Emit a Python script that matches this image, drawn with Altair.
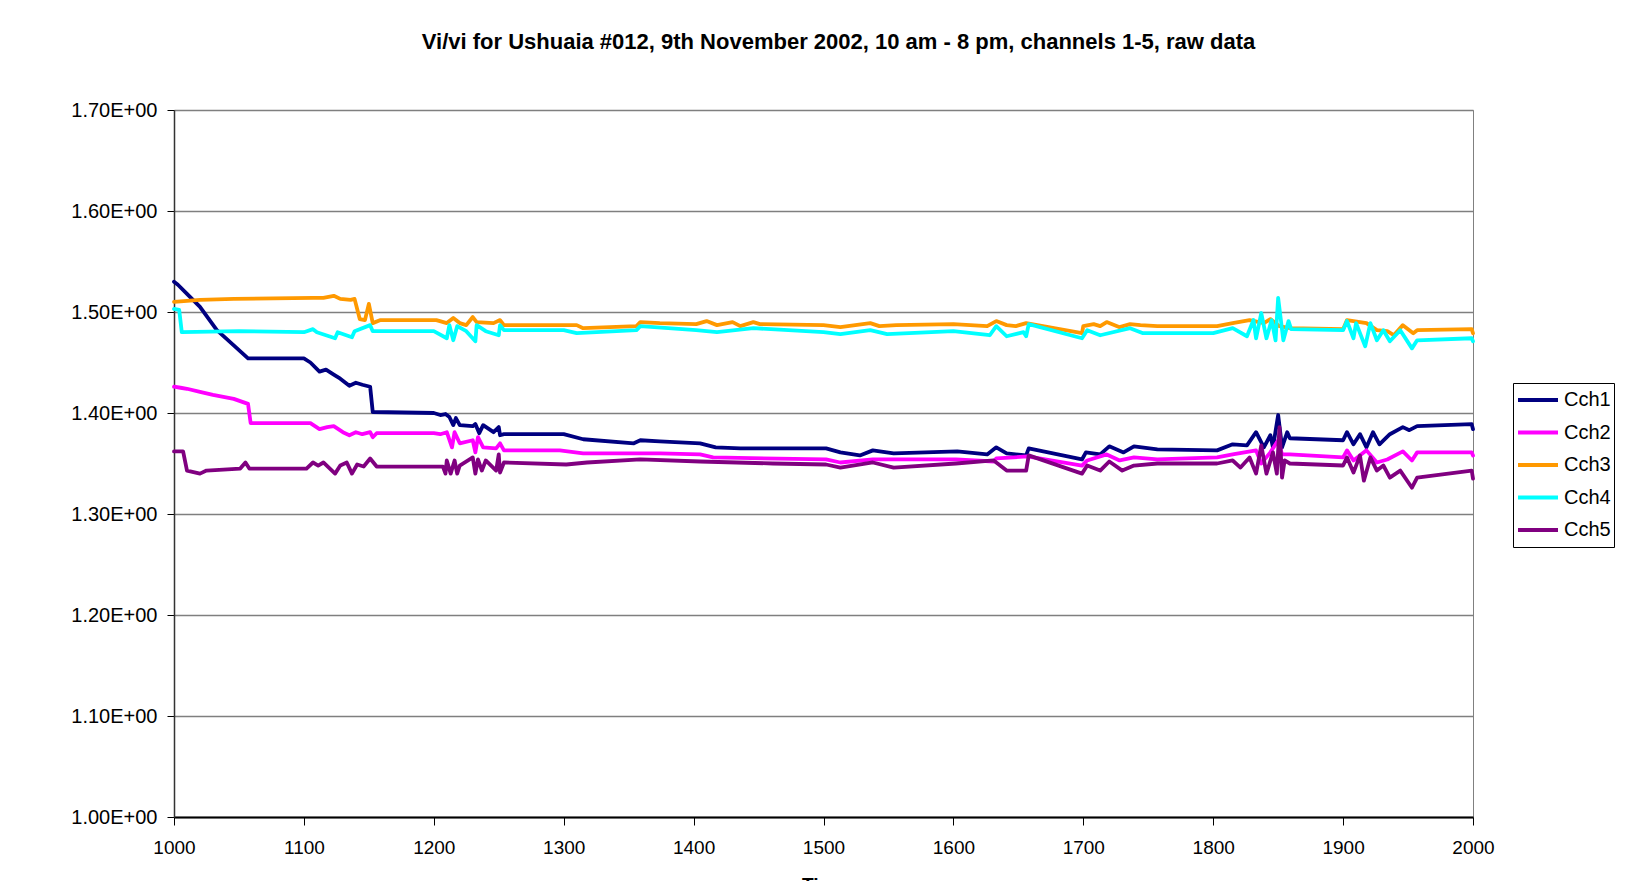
import altair as alt
import pandas as pd

channels = ["Cch1", "Cch2", "Cch3", "Cch4", "Cch5"]
colors = ["#000080", "#FF00FF", "#FF9900", "#00FFFF", "#800080"]

x_ticks = [1000, 1100, 1200, 1300, 1400, 1500, 1600, 1700, 1800, 1900, 2000]
y_ticks = [1.0, 1.1, 1.2, 1.3, 1.4, 1.5, 1.6, 1.7]

c1_t = [1000, 1003, 1010, 1020, 1033, 1046, 1057,
        1100, 1105, 1112, 1117, 1123, 1128, 1135, 1140, 1145, 1151, 1153,
        1200, 1205, 1209, 1212, 1215, 1217, 1220,
        1230, 1232, 1235, 1238, 1246, 1250, 1251, 1254,
        1300, 1315, 1354, 1359, 1374,
        1405, 1417, 1436, 1502, 1513, 1528, 1538, 1554,
        1603, 1626, 1633, 1641, 1656, 1658, 1699, 1702,
        1713, 1720, 1731, 1739, 1757,
        1803, 1815, 1826, 1833, 1839, 1844, 1846, 1850, 1853, 1857, 1859,
        1900, 1903, 1908, 1913, 1918, 1923, 1928, 1936, 1946, 1951, 1957, 1999, 2000]
c1_v = [1.530, 1.527, 1.518, 1.505, 1.482, 1.467, 1.454,
        1.454, 1.450, 1.441, 1.443, 1.438, 1.434, 1.427, 1.430, 1.428, 1.426, 1.401,
        1.400, 1.398, 1.399, 1.396, 1.388, 1.395, 1.388,
        1.387, 1.389, 1.380, 1.388, 1.381, 1.386, 1.378, 1.379,
        1.379, 1.374, 1.370, 1.373, 1.372,
        1.370, 1.366, 1.365, 1.365, 1.361, 1.358, 1.363, 1.360,
        1.362, 1.359, 1.366, 1.360, 1.358, 1.365, 1.354, 1.361,
        1.359, 1.367, 1.361, 1.367, 1.364,
        1.363, 1.369, 1.368, 1.381, 1.366, 1.378, 1.366, 1.398, 1.366, 1.381, 1.375,
        1.373, 1.381, 1.369, 1.379, 1.366, 1.381, 1.369, 1.379, 1.386, 1.383, 1.387, 1.389, 1.384]

c2_t = [1000, 1005, 1010, 1020, 1030, 1046, 1057, 1059, 1105, 1112,
        1118, 1123, 1130, 1135, 1140, 1145, 1151, 1153, 1156,
        1200, 1205, 1210, 1214, 1216, 1220, 1230, 1232, 1234, 1238, 1248, 1251, 1254,
        1297, 1315, 1359, 1374, 1405, 1415, 1502, 1513, 1538, 1602,
        1631, 1633, 1657, 1699, 1703, 1718, 1728, 1739, 1757, 1803,
        1815, 1833, 1837, 1844, 1850, 1853, 1859, 1900, 1903, 1908,
        1918, 1926, 1934, 1946, 1953, 1957, 1999, 2000]
c2_v = [1.426, 1.425, 1.424, 1.421, 1.418, 1.414, 1.409, 1.390, 1.390, 1.384,
        1.386, 1.387, 1.381, 1.378, 1.381, 1.379, 1.381, 1.376, 1.380,
        1.380, 1.379, 1.381, 1.366, 1.381, 1.370, 1.373, 1.361, 1.376, 1.366, 1.365, 1.370, 1.363,
        1.363, 1.360, 1.360, 1.360, 1.359, 1.356, 1.354, 1.351, 1.354, 1.354,
        1.352, 1.355, 1.357, 1.348, 1.353, 1.359, 1.353, 1.356, 1.354, 1.356,
        1.359, 1.363, 1.350, 1.361, 1.373, 1.359, 1.359, 1.356, 1.363, 1.353,
        1.363, 1.351, 1.354, 1.362, 1.353, 1.361, 1.361, 1.358]

c3_t = [1000, 1020, 1046, 1107, 1115, 1123, 1128, 1136, 1139, 1143, 1147, 1150, 1153, 1159,
        1202, 1210, 1215, 1220, 1225, 1230, 1233, 1246, 1251, 1254,
        1310, 1315, 1356, 1359, 1374,
        1402, 1410, 1418, 1430, 1436, 1446, 1451, 1500, 1513, 1536,
        1543, 1556, 1600, 1626, 1633, 1641, 1648, 1656, 1699, 1700,
        1708, 1713, 1718, 1728, 1736, 1744,
        1757, 1803, 1815, 1828, 1839, 1844, 1851, 1859, 1900, 1903,
        1918, 1926, 1934, 1939, 1946, 1954, 1957, 1999, 2000]
c3_v = [1.510, 1.512, 1.513, 1.514, 1.514, 1.516, 1.513, 1.512, 1.513, 1.493, 1.492, 1.508, 1.489, 1.492,
        1.492, 1.489, 1.494, 1.489, 1.487, 1.495, 1.490, 1.489, 1.492, 1.487,
        1.487, 1.484, 1.486, 1.490, 1.489,
        1.488, 1.491, 1.487, 1.490, 1.486, 1.490, 1.488, 1.487, 1.485, 1.489,
        1.486, 1.487, 1.488, 1.486, 1.491, 1.487, 1.486, 1.489, 1.479, 1.486,
        1.488, 1.486, 1.490, 1.485, 1.488, 1.487,
        1.486, 1.486, 1.489, 1.492, 1.489, 1.493, 1.486, 1.484, 1.483, 1.492,
        1.489, 1.482, 1.481, 1.477, 1.487, 1.479, 1.482, 1.483, 1.479]

c4_t = [1000, 1004, 1006, 1050, 1100, 1107, 1110, 1124, 1126, 1137, 1139, 1151, 1153,
        1200, 1210, 1212, 1215, 1218, 1225, 1232, 1233, 1240, 1250, 1251, 1254,
        1300, 1310, 1356, 1359, 1402, 1418, 1446, 1500, 1513, 1536,
        1549, 1600, 1628, 1633, 1641, 1654, 1656, 1658, 1699, 1703, 1713, 1736,
        1746, 1800, 1815, 1826, 1831, 1833, 1837, 1841, 1845, 1848, 1850, 1854, 1858, 1860,
        1900, 1903, 1908, 1910, 1917, 1921, 1926, 1931, 1936, 1944, 1953, 1957, 1999, 2000]
c4_v = [1.503, 1.502, 1.480, 1.481, 1.480, 1.483, 1.480, 1.474, 1.480, 1.475, 1.481, 1.487, 1.481,
        1.481, 1.474, 1.487, 1.472, 1.486, 1.481, 1.471, 1.487, 1.481, 1.477, 1.487, 1.482,
        1.482, 1.479, 1.482, 1.486, 1.482, 1.480, 1.484, 1.480, 1.478, 1.482,
        1.478, 1.481, 1.477, 1.486, 1.476, 1.480, 1.476, 1.488, 1.474, 1.482, 1.477, 1.484,
        1.479, 1.479, 1.484, 1.476, 1.492, 1.474, 1.499, 1.474, 1.492, 1.472, 1.514, 1.472, 1.491, 1.483,
        1.482, 1.491, 1.474, 1.489, 1.466, 1.489, 1.472, 1.482, 1.471, 1.482, 1.464, 1.472, 1.474, 1.471]

c5_t = [1000, 1007, 1010, 1020, 1025, 1051, 1055, 1058, 1102, 1107,
        1111, 1115, 1124, 1128, 1133, 1137, 1141, 1146, 1151, 1156,
        1207, 1209, 1210, 1213, 1216, 1218, 1220, 1230, 1232, 1234,
        1237, 1240, 1248, 1250, 1251, 1254,
        1302, 1318, 1359, 1405, 1461, 1502, 1513, 1538, 1554, 1602,
        1631, 1641, 1656, 1658, 1699, 1703, 1713, 1720, 1730, 1739, 1757,
        1803, 1815, 1821, 1828, 1833, 1837, 1841, 1846, 1849, 1851, 1853, 1855, 1859,
        1900, 1903, 1908, 1913, 1916, 1921, 1926, 1931, 1936, 1944, 1953, 1957, 1999, 2000]
c5_v = [1.362, 1.362, 1.343, 1.340, 1.343, 1.345, 1.351, 1.345, 1.345, 1.351,
        1.348, 1.351, 1.340, 1.348, 1.351, 1.340, 1.349, 1.347, 1.355, 1.347,
        1.347, 1.340, 1.353, 1.340, 1.353, 1.340, 1.348, 1.356, 1.340, 1.354,
        1.343, 1.353, 1.343, 1.359, 1.341, 1.351,
        1.349, 1.351, 1.354, 1.352, 1.350, 1.349, 1.346, 1.351, 1.346, 1.350,
        1.353, 1.343, 1.343, 1.358, 1.340, 1.348, 1.343, 1.352, 1.343, 1.348, 1.350,
        1.350, 1.353, 1.346, 1.356, 1.340, 1.368, 1.340, 1.361, 1.340, 1.386, 1.336, 1.353, 1.350,
        1.348, 1.356, 1.341, 1.358, 1.333, 1.356, 1.343, 1.348, 1.336, 1.343, 1.326, 1.336, 1.343, 1.335]

series_t = [c1_t, c2_t, c3_t, c4_t, c5_t]
series_v = [c1_v, c2_v, c3_v, c4_v, c5_v]

rows = []
for name, ts, vs in zip(channels, series_t, series_v):
    assert len(ts) == len(vs), name
    for i, (t, v) in enumerate(zip(ts, vs)):
        rows.append({"time": t, "value": v, "channel": name, "idx": i})
df = pd.DataFrame(rows)

title = "Vi/vi for Ushuaia #012, 9th November 2002, 10 am - 8 pm, channels 1-5, raw data"

chart = alt.Chart(df).mark_line(strokeWidth=3.8, strokeJoin="round", strokeCap="round").encode(
    x=alt.X("time:Q",
            scale=alt.Scale(domain=[1000, 2000], nice=False, zero=False),
            axis=alt.Axis(values=x_ticks, grid=False, title="Time", format="d",
                          labelFlush=False,
                          labelFont="Liberation Sans", labelFontSize=19, labelColor="black",
                          labelPadding=13, tickSize=8, tickColor="black", tickWidth=1,
                          domainColor="black", domainWidth=2,
                          titleFont="Liberation Sans", titleFontSize=19, titleFontWeight="bold",
                          titleColor="black", titlePadding=18)),
    y=alt.Y("value:Q",
            scale=alt.Scale(domain=[1.0, 1.7], nice=False, zero=False),
            axis=alt.Axis(values=y_ticks, title=None,
                          labelExpr="format(datum.value, '.2f') + 'E+00'",
                          labelFont="Liberation Sans", labelFontSize=20, labelColor="black",
                          labelPadding=10, tickSize=7, tickColor="black", tickWidth=1,
                          domainColor="#333333", domainWidth=1.5,
                          grid=True, gridColor="#7f7f7f", gridWidth=1.5)),
    color=alt.Color("channel:N",
                    scale=alt.Scale(domain=channels, range=colors),
                    legend=alt.Legend(title=None, orient="none", legendX=1339, legendY=273,
                                      symbolType="stroke", symbolSize=1600, symbolStrokeWidth=4,
                                      labelFont="Liberation Sans", labelFontSize=20,
                                      labelColor="black", labelOffset=4,
                                      clipHeight=28, rowPadding=4.5, padding=3,
                                      strokeColor="black")),
    order=alt.Order("idx:Q"),
).properties(
    width=1299,
    height=707,
    title=alt.Title(title, font="Liberation Sans", fontSize=22, fontWeight="bold",
                    color="black", anchor="middle", frame="group", offset=46, dx=15),
    autosize=alt.AutoSizeParams(type="none"),
    padding={"left": 166, "top": 102, "right": 164, "bottom": 64},
).configure_view(stroke="#808080", strokeWidth=1)

chart.save("out.html", embed_options={"renderer": "svg", "actions": False})
